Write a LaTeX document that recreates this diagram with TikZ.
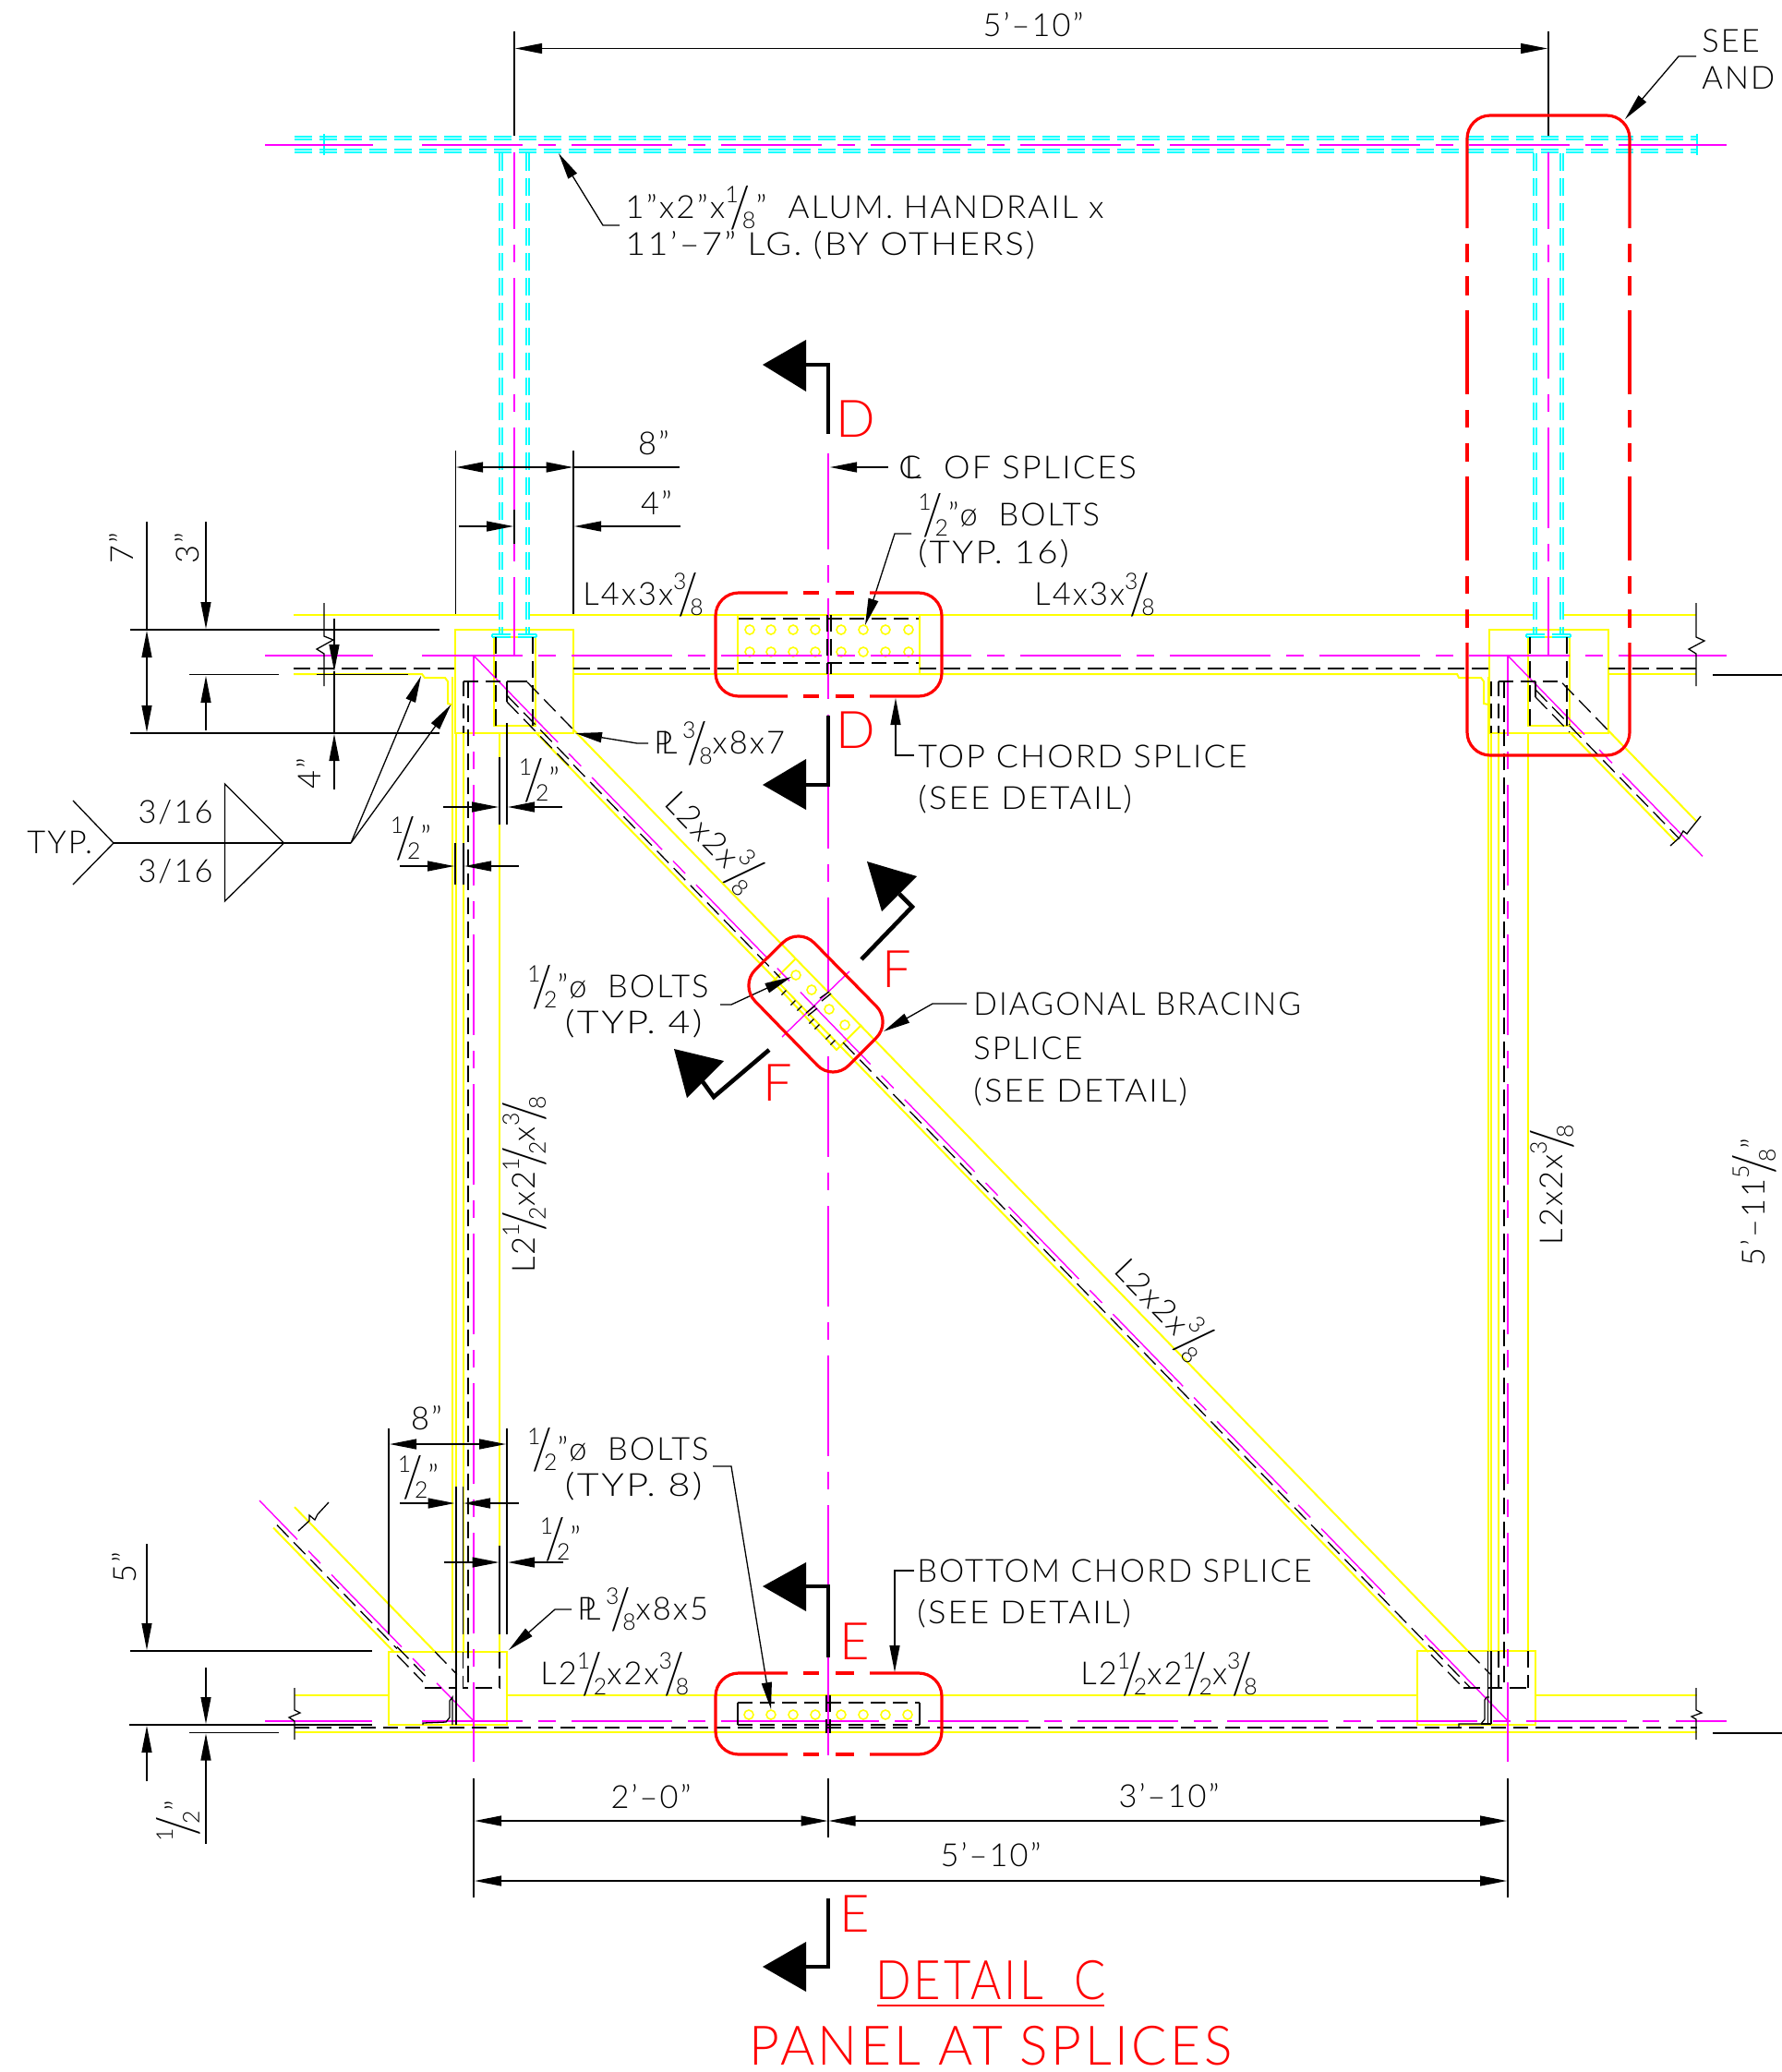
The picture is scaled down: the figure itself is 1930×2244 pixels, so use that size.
\documentclass[tikz,border=0pt]{standalone}
\usepackage{fontspec}
\setmainfont[LetterSpace=6]{Lato Light}
\usetikzlibrary{arrows.meta}
\definecolor{yy}{HTML}{FFFF00}
\definecolor{cc}{HTML}{00FFFF}
\definecolor{mm}{HTML}{FF00FF}
\definecolor{rr}{HTML}{FF0000}
\newcommand{\fr}[2]{\mbox{\raisebox{.52em}{\scalebox{.72}{#1}}\kern-.26em\raisebox{-.27em}{\scalebox{1.45}[1.8]{/}}\kern-.26em\raisebox{-.32em}{\scalebox{.72}{#2}}}}
\newcommand{\PLs}{\mbox{\rlap{P}\kern.22em L}}
\newcommand{\CLs}{\mbox{\rlap{C}\kern.18em L}}
\newcommand{\sx}[2]{\scalebox{#1}[1]{#2}}
\newcommand{\Dm}[4]{\draw[#1] ({#2},{710+1.03*(#2-513)+#4}) -- ({#3},{710+1.03*(#3-513)+#4});}
\newcommand{\Dl}[4]{\draw[#1] ({#2},{1864+1.03*(#2-513)+#4}) -- ({#3},{1864+1.03*(#3-513)+#4});}
\newcommand{\Du}[4]{\draw[#1] ({#2},{710+1.03*(#2-1633)+#4}) -- ({#3},{710+1.03*(#3-1633)+#4});}
\newcommand{\CyH}[3]{\draw[cyl] (#2,#1-1.5) -- (#3,#1-1.5); \draw[cyl] (#2,#1+1.5) -- (#3,#1+1.5);}
\newcommand{\CyV}[3]{\draw[cyl] (#1-1.5,#2) -- (#1-1.5,#3); \draw[cyl] (#1+1.5,#2) -- (#1+1.5,#3);}
\tikzset{
 yel/.style={draw=yy,line width=1pt},
 cyl/.style={draw=cc,line width=.7pt,dash pattern=on 9.5pt off 4pt},
 cys/.style={draw=cc,line width=.7pt},
 mg/.style={draw=mm,line width=.7pt},
 mgd/.style={draw=mm,line width=.7pt,dash pattern=on 54.5pt off 8.5pt on 9.5pt off 8.5pt},
 blk/.style={draw=black,line width=.65pt},
 dsh/.style={draw=black,line width=.65pt,dash pattern=on 9pt off 4pt},
 dsm/.style={draw=black,line width=.65pt,dash pattern=on 8pt off 4pt},
 stem/.style={draw=black,line width=2.3pt},
 redl/.style={draw=rr,line width=1.6pt},
 ar/.style={blk,-{Triangle[length=14.5pt,width=5.5pt]}},
 aa/.style={blk,{Triangle[length=14.5pt,width=5.5pt]}-{Triangle[length=14.5pt,width=5.5pt]}},
 txt/.style={inner sep=0pt,anchor=west,font=\fontsize{17.2}{20}\selectfont},
 ctx/.style={inner sep=0pt,font=\fontsize{17.2}{20}\selectfont},
 rlet/.style={inner sep=0pt,text=rr,font=\fontsize{28}{30}\selectfont},
 rtit/.style={inner sep=0pt,text=rr,font=\fontsize{29.5}{32}\selectfont},
 bolt/.style={draw=yy,line width=.8pt},
}
\begin{document}
\begin{tikzpicture}[x=.5pt,y=-.5pt]
\useasboundingbox (0,0) rectangle (1930,2244);
\fill[white] (0,0) rectangle (1930,2244);
% ---------- yellow: chords
\draw[yel] (318,666) -- (541,666);
\draw[yel] (573,666) -- (1661,666);
\draw[yel] (1693,666) -- (1837,666);
\draw[yel] (318,730) -- (457,730) -- (460,734) -- (482,734) -- (485,738) -- (485,762) -- (489,763);
\draw[yel] (621,730) -- (799,730);
\draw[yel] (996,730) -- (1578,730) -- (1580,734) -- (1604,734) -- (1607,738) -- (1607,762) -- (1612,763);
\draw[yel] (1742,730) -- (1837,730);
\draw[yel] (319,1836) -- (421,1836);
\draw[yel] (549,1836) -- (1535,1836);
\draw[yel] (1663,1836) -- (1838,1836);
\draw[yel] (319,1876) -- (1838,1876);
% plates
\draw[yel] (493,682) rectangle (621,794);
\draw[yel] (1613,682) rectangle (1742,794);
\draw[yel] (535,690) rectangle (580,786);
\draw[yel] (1655,690) rectangle (1700,786);
\draw[yel] (421,1789) rectangle (549,1868);
\draw[yel] (1535,1788) rectangle (1663,1868);
\draw[yel] (799,666) rectangle (996,730);
% columns
\draw[yel] (489.5,733) -- (489.5,1789);
\draw[yel] (493.5,794) -- (493.5,1789);
\draw[yel] (501.5,794) -- (501.5,1789);
\draw[yel] (541,794) -- (541,1789);
\draw[yel] (1611.5,733) -- (1611.5,1788);
\draw[yel] (1615,794) -- (1615,1788);
\draw[yel] (1623,794) -- (1623,1788);
\draw[yel] (1655,794) -- (1655,1788);
% diagonals
\Dm{yel}{621}{1590}{-31}
\Dm{yel}{580}{1547}{14}
\Du{yel}{1742}{1837}{-31}
\Du{yel}{1700}{1815}{14}
\Dl{yel}{319}{471}{-32}
\Dl{yel}{296}{427}{14}
% splice plate at bracing
\draw[yel] (862,1038) -- (837,1063) -- (906,1137) -- (933,1110);
\foreach \p in {(862,1056),(879,1072),(898,1093),(915,1110)} \draw[bolt] \p circle (5);
% bolts
\foreach \x in {812,835,859,883,911,935,959,984} {\draw[bolt] (\x,682) circle (5); \draw[bolt] (\x,706) circle (5);}
\foreach \x in {811,835,859,883,911,935,959,983} {\draw[bolt] (\x,1857) circle (5);}
% ---------- cyan handrail
\CyH{149.5}{319}{1838}
\CyH{163.5}{319}{1838}
\CyV{542.6}{166}{688}
\CyV{571.6}{166}{688}
\CyV{1662.6}{166}{688}
\CyV{1691.6}{166}{688}
\draw[cys] (351,145) -- (351,168);
\draw[cys] (1838,145) -- (1838,168);
\foreach \c in {557,1677} {
 \draw[cys] (\c-24,687) -- (\c-4,687); \draw[cys] (\c-24,690) -- (\c-4,690);
 \draw[cys] (\c+4,687) -- (\c+24,687); \draw[cys] (\c+4,690) -- (\c+24,690);
 \draw[cys] (\c-24,687) -- (\c-24,690); \draw[cys] (\c+24,687) -- (\c+24,690);
}
% ---------- magenta horizontals
\foreach \yy in {157,710} {
 \draw[mg] (287,\yy) -- (404,\yy);
 \draw[mgd] (457,\yy) -- (1736,\yy);
 \draw[mg] (1753,\yy) -- (1870,\yy);
}
\draw[mg] (287,1864) -- (403,1864);
\draw[mgd] (457,1864) -- (795,1864);
\draw[mg] (781,1864) -- (952,1864);
\draw[mg] (969,1864) -- (988,1864);
\draw[mgd] (1005,1864) -- (1797,1864);
\draw[mg] (1815,1864) -- (1870,1864);
% magenta verticals
\draw[mgd,dash phase=13pt] (557,165) -- (557,710);
\draw[mgd,dash phase=13pt] (1677,165) -- (1677,710);
\draw[mgd,dash phase=11pt] (513,710) -- (513,1908);
\draw[mgd,dash phase=11pt] (1633,710) -- (1633,1908);
\draw[mgd,dash phase=2.5pt] (897,491) -- (897,1075);
\draw[mgd] (897,1144) -- (897,1908);
% magenta diagonals
\Dm{mg}{513}{529}{0}
\Dm{mgd}{528.3}{1500}{0}
\Dm{mg}{1543}{1633}{0}
\Du{mg}{1633}{1716}{0}
\Du{mg}{1732}{1746}{0}
\Du{mg}{1757}{1844}{0}
\Dl{mg}{281}{322}{0}
\Dl{mg}{334}{347}{0}
\Dl{mg}{359}{435}{0}
\Dl{mg}{447}{460}{0}
\Dl{mg}{473}{513}{0}
\draw[mg] (847,1123) -- (920,1052);
% ---------- black hidden lines
\draw[dsh] (318,724) -- (493,724);
\draw[dsh] (621,724) -- (799,724);
\draw[dsh] (996,724) -- (1612,724);
\draw[dsh] (1742,724) -- (1837,724);
\draw[dsm] (319,1871) -- (1838,1871);
\draw[dsm] (800,670) -- (995,670);
\draw[dsm] (800,718) -- (995,718);
\draw[dsh] (896,666) -- (896,730);
\draw[dsh] (900,666) -- (900,730);
% bottom splice angle
\draw[blk] (799,1844) -- (799,1868);
\draw[blk] (996,1844) -- (996,1868);
\draw[dsm] (799,1844) -- (996,1844);
\draw[dsm] (799,1868) -- (996,1868);
\draw[dsh] (895,1836) -- (895,1877);
\draw[dsh] (899,1836) -- (899,1877);
% rails' hidden legs
\foreach \x in {537,577,1657,1697} \draw[dsh] (\x,690) -- (\x,786);
% top of diagonal/column hidden
\draw[dsm] (502,738) -- (549,738);
\draw[blk] (549,738) -- (571,738);
\draw[dsm] (502,738) -- (502,794);
\draw[dsh] (507,738) -- (507,1828);
\draw[blk] (549,738) -- (549,760);
\Dm{dsh}{571}{621}{-31}
\Dm{dsh}{549}{620}{6}
\Dm{dsh}{549}{620}{13}
\Dm{dsh}{621}{845}{7}
\Dm{dsh}{913}{1550}{7}
\Dm{dsh}{1590}{1615}{-31}
\Dm{dsh}{1550}{1593}{6}
\Dm{dsh}{1550}{1585}{14}
\draw[dsm] (1615,738) -- (1615,794);
\draw[dsm] (1623,738) -- (1692,738);
\draw[dsm] (1623,738) -- (1623,794);
\draw[dsh] (1629,738) -- (1629,1828);
\draw[blk] (1663,738) -- (1663,755);
\Du{dsh}{1663}{1700}{6}
\Du{dsh}{1663}{1700}{14}
\Du{dsh}{1692}{1742}{-31}
\Du{dsh}{1700}{1819}{7}
\Dl{dsh}{300}{430}{7}
\Dl{dsh}{430}{465}{5}
\Dl{dsh}{430}{458}{14}
\Dl{dsh}{471}{495}{-32}
% bottom-left details
\draw[blk] (494,1610) -- (494,1868);
\draw[blk] (501.5,1610) -- (501.5,1770);
\draw[dsh] (501.5,1789) -- (501.5,1828) -- (541,1828);
\draw[dsh] (541,1789) -- (541,1828);
\draw[dsh] (460,1828) -- (493,1828);
\draw[blk] (458,1868) -- (458,1866) -- (483,1865) -- (487,1860) -- (487,1842) -- (490,1838) -- (490,1868);
% bottom-right details
\draw[blk] (1611.5,1788) -- (1611.5,1867);
\draw[blk] (1615,1788) -- (1615,1867);
\draw[dsh] (1623,1788) -- (1623,1828) -- (1655,1828);
\draw[dsh] (1655,1788) -- (1655,1828);
\draw[dsh] (1585,1828) -- (1623,1828);
\draw[blk] (1580,1870) -- (1580,1867) -- (1604,1867) -- (1608,1862) -- (1608,1841) -- (1610,1838) -- (1613,1838);
\draw[blk] (1604,1867) -- (1615,1867);
% bracing splice ticks
\foreach \a/\b in {849/1075,859/1086,866/1092,879/1106,885/1112,897/1123,902/1129} \draw[blk] (\a-2.5,\b+2.5) -- (\a+2.5,\b-2.5);
\draw[blk] (888,1081) -- (898,1074);
\draw[blk] (890,1084) -- (900,1076);
\draw[blk] (873,1097) -- (883,1089);
\draw[blk] (875,1100) -- (885,1092);
% break symbols
\draw[blk] (351,653) -- (351,689) -- (361,693) -- (343,703) -- (351,708) -- (351,743);
\draw[blk] (1837,653) -- (1837,690) -- (1846,694) -- (1829,703) -- (1837,708) -- (1837,743);
\draw[blk] (319,1828) -- (319,1852) -- (325,1855) -- (313,1860) -- (319,1864) -- (319,1884);
\draw[blk] (1837,1828) -- (1837,1852) -- (1843,1855) -- (1832,1859) -- (1837,1862) -- (1837,1884);
\draw[blk] (1809,916) -- (1819,907) -- (1823,900) -- (1827,903) -- (1830,899) -- (1842,884);
\draw[blk] (323,1658) -- (335,1647) -- (335,1641) -- (341,1646) -- (344,1640) -- (356,1627);
% ---------- dimensions top
\draw[blk] (557,34) -- (557,147);
\draw[blk] (1677,34) -- (1677,147);
\draw[aa] (558,52.5) -- (1676,52.5);
\draw[blk] (493.5,488) -- (493.5,665);
\draw[blk] (621,488) -- (621,665);
\draw[aa] (494,506) -- (620.5,506);
\draw[blk] (621,506) -- (736,506);
\draw[ar] (497,570) -- (556,570);
\draw[blk] (557,552) -- (557,589);
\draw[ar] (737,570) -- (622,570);
\draw[ar] (962,506) -- (899,506);
% leaders top
\draw[ar] (671,244) -- (653,244) -- (605,166);
\draw[ar] (1837,61) -- (1818,61) -- (1760,129);
\draw[ar] (987,578) -- (969,578) -- (937,677);
\draw[ar] (990,818) -- (970,818) -- (970,756);
% left dims
\draw[blk] (141,682) -- (476,682);
\draw[blk] (141,794) -- (476,794);
\draw[blk] (205,730.5) -- (302,730.5);
\draw[blk] (343,730.5) -- (442,730.5);
\draw[blk] (159,565) -- (159,682);
\draw[aa] (159,683) -- (159,793);
\draw[ar] (223,565) -- (223,681);
\draw[ar] (223,791) -- (223,732);
\draw[ar] (362,670) -- (362,727);
\draw[blk] (362,727) -- (362,794);
\draw[ar] (362,855) -- (362,795);
% half-inch dims top
\draw[blk] (549,783) -- (549,893);
\draw[blk] (541,820) -- (541,893);
\draw[ar] (480,874) -- (540,874);
\draw[ar] (609,874) -- (550,874);
\draw[blk] (493,913) -- (493,958);
\draw[blk] (502,913) -- (502,958);
\draw[ar] (433,938) -- (492,938);
\draw[ar] (562,938) -- (503,938);
% weld symbol
\draw[blk] (79,867) -- (123,913) -- (79,958);
\draw[blk] (123,913) -- (380,913);
\draw[blk] (243.5,849) -- (243.5,976) -- (307.5,913) -- cycle;
\draw[ar] (380,913) -- (456,732);
\draw[ar] (380,913) -- (488.5,763);
% leaders mid
\draw[ar] (1047,1087) -- (1010,1087) -- (957,1117);
\draw[ar] (780,1088) -- (792,1088) -- (857,1058);
\draw[ar] (702,805) -- (690,805) -- (623,794);
% bottom dims
\draw[blk] (421,1547) -- (421,1770);
\draw[blk] (549,1547) -- (549,1770);
\draw[aa] (422,1564) -- (548,1564);
\draw[ar] (433,1628) -- (492.5,1628);
\draw[ar] (562,1628) -- (502,1628);
\draw[ar] (481,1692) -- (540.5,1692);
\draw[ar] (610,1692) -- (550,1692);
\draw[blk] (541,1674) -- (541,1770);
\draw[ar] (619,1743) -- (601,1743) -- (551,1787);
\draw[ar] (772,1588) -- (792,1588) -- (835,1851);
\draw[ar] (990,1701) -- (969,1701) -- (969,1811);
\draw[blk] (141,1788) -- (403,1788);
\draw[ar] (159,1672) -- (159,1787);
\draw[blk] (140,1868) -- (403,1868);
\draw[blk] (205,1876.5) -- (302,1876.5);
\draw[ar] (159,1929) -- (159,1869);
\draw[ar] (223,1806) -- (223,1867);
\draw[ar] (223,1997) -- (223,1877.5);
\draw[blk] (513,1926) -- (513,2055);
\draw[blk] (897,1926) -- (897,1990);
\draw[blk] (1633,1926) -- (1633,2055);
\draw[aa] (514,1972) -- (896.5,1972);
\draw[aa] (897.5,1972) -- (1632,1972);
\draw[aa] (514,2037) -- (1632,2037);
\draw[blk] (1855,731) -- (1930,731);
\draw[blk] (1855,1877) -- (1930,1877);
% ---------- section marks
\draw[stem] (873,395) -- (897,395) -- (897,470);
\fill (826,395) -- (873,368) -- (873,424) -- cycle;
\draw[stem] (873,850) -- (897,850) -- (897,775);
\fill (826,850) -- (873,822) -- (873,877) -- cycle;
\draw[stem] (873,1718) -- (897,1718) -- (897,1795);
\fill (826,1718) -- (873,1692) -- (873,1745) -- cycle;
\draw[stem] (873,2130) -- (897,2130) -- (897,2056);
\fill (826,2130) -- (873,2103) -- (873,2157) -- cycle;
\draw[stem] (933,1039) -- (988,982) -- (974,968);
\fill (939,933) -- (993,949) -- (955,987) -- cycle;
\draw[stem] (833,1137) -- (773,1188) -- (760,1170);
\fill (730,1136) -- (784,1149) -- (744,1189) -- cycle;
% ---------- red clouds
\foreach \ya/\yb in {642/754,1812/1900} {
 \draw[redl,rounded corners=12.5pt] (853,\ya) -- (775,\ya) -- (775,\yb) -- (853,\yb);
 \draw[redl,rounded corners=12.5pt] (942,\ya) -- (1020,\ya) -- (1020,\yb) -- (942,\yb);
 \foreach \yc in {\ya,\yb} {\draw[redl] (870,\yc) -- (887,\yc); \draw[redl] (905,\yc) -- (925,\yc);}
}
\draw[redl,rounded corners=12.5pt] (1589,247) -- (1589,125) -- (1765,125) -- (1765,247);
\draw[redl,rounded corners=12.5pt] (1589,696) -- (1589,818) -- (1765,818) -- (1765,696);
\foreach \x in {1589,1765} {
 \foreach \a/\b in {264/284,299/320,336/427,444/463,480/500,516/607,624/643,660/680} \draw[redl] (\x,\a) -- (\x,\b);
}
\draw[redl,rounded corners=12pt] (865,1004) -- (966,1107) -- (902,1171) -- (801,1067) -- cycle;
% ---------- texts
\node[ctx] (t01) at (1119,27) {5’–10”};
\node[txt] (t02) at (1843,44) {SEE};
\node[txt] (t03) at (1843,84) {AND};
\node[txt] (t04) at (677,225) {\sx{1.02}{1”x2”x\fr{1}{8}”\ \ ALUM. HANDRAIL x}};
\node[txt] (t05) at (677,266) {\sx{1.1}{11’–7” LG. (BY OTHERS)}};
\node[ctx] (t06) at (708,480) {8”};
\node[ctx] (t07) at (711,544) {4”};
\node[txt] (t08) at (973,506) {\sx{1.05}{\CLs\ \ OF SPLICES}};
\node[txt] (t09) at (994,558) {\fr{1}{2}”ø\ \ BOLTS};
\node[txt] (t10) at (994,600) {\sx{1.12}{(TYP. 16)}};
\node[txt] (t11) at (631,644) {L4x3x\fr{3}{8}};
\node[txt] (t12) at (1120,644) {L4x3x\fr{3}{8}};
\node[txt] (t13) at (994,819) {\sx{1.04}{TOP CHORD SPLICE}};
\node[txt] (t14) at (994,866) {\sx{1.06}{(SEE DETAIL)}};
\node[ctx,rotate=90] (t15) at (132,594) {7”};
\node[ctx,rotate=90] (t16) at (203,594) {3”};
\node[ctx,rotate=90] (t17) at (335,838) {4”};
\node[ctx] (t18) at (584,845) {\fr{1}{2}”};
\node[ctx] (t19) at (445,908) {\fr{1}{2}”};
\node[txt] (t20) at (708,805) {\PLs\,\fr{3}{8}x8x7};
\node[ctx] (t21) at (190,880) {3/16};
\node[ctx] (t22) at (190,944) {3/16};
\node[txt] (t23) at (29,912) {TYP.};
\node[ctx,rotate=-46] (t24) at (772,910) {L2x2x\fr{3}{8}};
\node[ctx,rotate=-46] (t25) at (1259,1416) {L2x2x\fr{3}{8}};
\node[txt,anchor=east] (t26) at (768,1069) {\fr{1}{2}”ø\ \ BOLTS};
\node[txt,anchor=east] (t27) at (761,1109) {\sx{1.2}{(TYP. 4)}};
\node[txt] (t28) at (1054,1087) {\sx{.98}{DIAGONAL BRACING}};
\node[txt] (t29) at (1054,1135) {SPLICE};
\node[txt] (t30) at (1054,1183) {\sx{1.06}{(SEE DETAIL)}};
\node[ctx,rotate=90] (t31) at (568,1283) {L2\fr{1}{2}x2\fr{1}{2}x\fr{3}{8}};
\node[ctx,rotate=90] (t32) at (1681,1283) {L2x2x\fr{3}{8}};
\node[ctx,rotate=90] (t33) at (1900,1302) {5’–11\fr{5}{8}”};
\node[ctx] (t34) at (462,1536) {8”};
\node[ctx] (t35) at (453,1600) {\fr{1}{2}”};
\node[ctx] (t36) at (607,1667) {\fr{1}{2}”};
\node[txt,anchor=east] (t37) at (768,1570) {\fr{1}{2}”ø\ \ BOLTS};
\node[txt,anchor=east] (t38) at (761,1610) {\sx{1.2}{(TYP. 8)}};
\node[txt] (t39) at (625,1743) {\PLs\,\fr{3}{8}x8x5};
\node[txt] (t40) at (993,1701) {BOTTOM CHORD SPLICE};
\node[txt] (t41) at (993,1748) {\sx{1.06}{(SEE DETAIL)}};
\node[txt] (t42) at (585,1813) {L2\fr{1}{2}x2x\fr{3}{8}};
\node[txt] (t43) at (1170,1813) {L2\fr{1}{2}x2\fr{1}{2}x\fr{3}{8}};
\node[ctx,rotate=90] (t44) at (135,1698) {5”};
\node[ctx,rotate=90] (t45) at (193,1972) {\fr{1}{2}”};
\node[ctx] (t46) at (705,1946) {2’–0”};
\node[ctx] (t47) at (1266,1945) {3’–10”};
\node[ctx] (t48) at (1073,2009) {5’–10”};
% red texts
\node[rlet] (r1) at (927,454) {D};
\node[rlet] (r2) at (927,791) {D};
\node[rlet] (r3) at (926,1778) {E};
\node[rlet] (r4) at (926,2073) {E};
\node[rlet] (r5) at (971,1050) {F};
\node[rlet] (r6) at (842,1173) {F};
\node[rtit] (r7) at (1073,2145) {\sx{.86}{DETAIL\ \ C}};
\draw[draw=rr,line width=1pt] (950,2172) -- (1196,2172);
\node[rtit] (r8) at (1073,2216) {\sx{.965}{PANEL\ AT\ SPLICES}};
\end{tikzpicture}
\end{document}
